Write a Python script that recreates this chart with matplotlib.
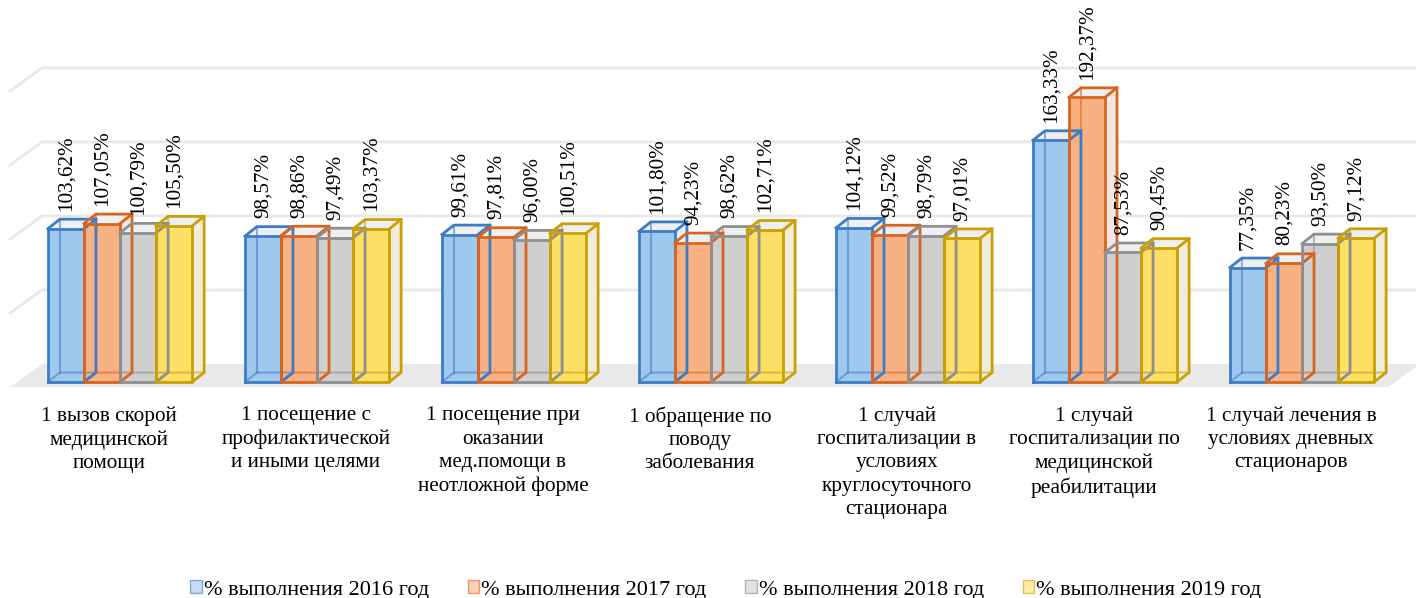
import numpy as np
import matplotlib
matplotlib.use('Agg')
import matplotlib.pyplot as plt
from matplotlib.patches import Polygon, Patch

plt.rcParams['font.family'] = ['Liberation Serif', 'DejaVu Serif']

categories = ['1 вызов скорой\nмедицинской\nпомощи',
              '1 посещение с\nпрофилактической\nи иными целями',
              '1 посещение при\nоказании\nмед.помощи в\nнеотложной форме',
              '1 обращение по\nповоду\nзаболевания',
              '1 случай\nгоспитализации в\nусловиях\nкруглосуточного\nстационара',
              '1 случай\nгоспитализации по\nмедицинской\nреабилитации',
              '1 случай лечения в\nусловиях дневных\nстационаров']
series_names = ['% выполнения 2016 год', '% выполнения 2017 год',
                '% выполнения 2018 год', '% выполнения 2019 год']
v2016 = [103.62, 98.57, 99.61, 101.80, 104.12, 163.33, 77.35]
v2017 = [107.05, 98.86, 97.81, 94.23, 99.52, 192.37, 80.23]
v2018 = [100.79, 97.49, 96.00, 98.62, 98.79, 87.53, 93.50]
v2019 = [105.50, 103.37, 100.51, 102.71, 97.01, 90.45, 97.12]
gridvals = [50, 100, 150, 200]

fills = ['#9fc8ef', '#f8b183', '#cfcfcf', '#ffe066']
edges = ['#3d7cc4', '#d8651f', '#8f8f8f', '#c9a006']
sides = ['#e6eef6', '#f2e8e3', '#ecebea', '#f1ecdc']
top_c = '#eeeff1'

# geometry (category units / percent)
w = 0.183
dx, dy = 0.061, 6.4
fdx, fdy = 0.162, 15.6


def draw_bar(ax, x, h, k):
    e = edges[k]
    # right side and top faces
    ax.add_patch(Polygon([(x+w, 0), (x+w+dx, dy), (x+w+dx, h+dy), (x+w, h)],
                         closed=True, fc=sides[k], ec='none', zorder=3))
    ax.add_patch(Polygon([(x, h), (x+dx, h+dy), (x+w+dx, h+dy), (x+w, h)],
                         closed=True, fc=top_c, ec='none', zorder=3))
    # front face
    ax.add_patch(Polygon([(x, 0), (x+w, 0), (x+w, h), (x, h)],
                         closed=True, fc=fills[k], ec='none', zorder=3))
    # hidden edges seen through
    ax.plot([x+dx, x+dx], [dy, h+dy], color=e, lw=1.5, alpha=0.55, zorder=4)
    ax.plot([x, x+dx, x+w+dx], [0, dy, dy], color=e, lw=1.5, alpha=0.55, zorder=4)
    # outline
    ax.plot([x, x+w, x+w, x, x], [0, 0, h, h, 0], color=e, lw=2, zorder=5)
    ax.plot([x, x+dx, x+w+dx, x+w], [h, h+dy, h+dy, h], color=e, lw=2, zorder=5)
    ax.plot([x+w+dx, x+w+dx, x+w], [h+dy, dy, 0], color=e, lw=2, zorder=5)


fig = plt.figure(figsize=(14.16, 5.98), dpi=100)
ax = fig.add_axes([0, 0, 1, 1])
ax.set_xlim(-120/197, (1416-120)/197)
ax.set_ylim((382-598)/1.48, 382/1.48)
ax.axis('off')

n = len(categories)
x0, x1 = -0.558, n - 1 + 0.437
# floor
ax.add_patch(Polygon([(x0, -3.4), (x1, -3.4), (x1+fdx, -3.4+fdy), (x0+fdx, -3.4+fdy)],
                     closed=True, fc='#e9e9e9', ec='none', zorder=1))
# walls grid
for g in gridvals:
    ax.plot([x0, x0+fdx, 7.0], [g-3.4, g-3.4+fdy, g-3.4+fdy], color='#e8e8e8', lw=2, zorder=1)

data = [v2016, v2017, v2018, v2019]
for i in range(n):
    for k in range(4):
        h = data[k][i]
        x = i - 2*w + k*w
        draw_bar(ax, x, h, k)
        lbl = f'{h:.2f}'.replace('.', ',') + '%'
        ax.text(x + w/2, h + 12, lbl, rotation=90, ha='center', va='bottom',
                fontsize=15.2, zorder=6)
    ax.text(i - 0.056, -16.5, categories[i], ha='center', va='top', fontsize=15.3,
            linespacing=1.3)

handles = [Patch(fc=f, ec=e, alpha=0.6) for f, e in zip(fills, edges)]
fig.legend(handles, series_names, loc='center', bbox_to_anchor=(0.5127, 1-590/598),
           ncol=4, frameon=False, fontsize=16, handlelength=0.5, handleheight=0.5,
           handletextpad=0.1, columnspacing=1.75, borderpad=0)

fig.savefig('out.png', dpi=100)
